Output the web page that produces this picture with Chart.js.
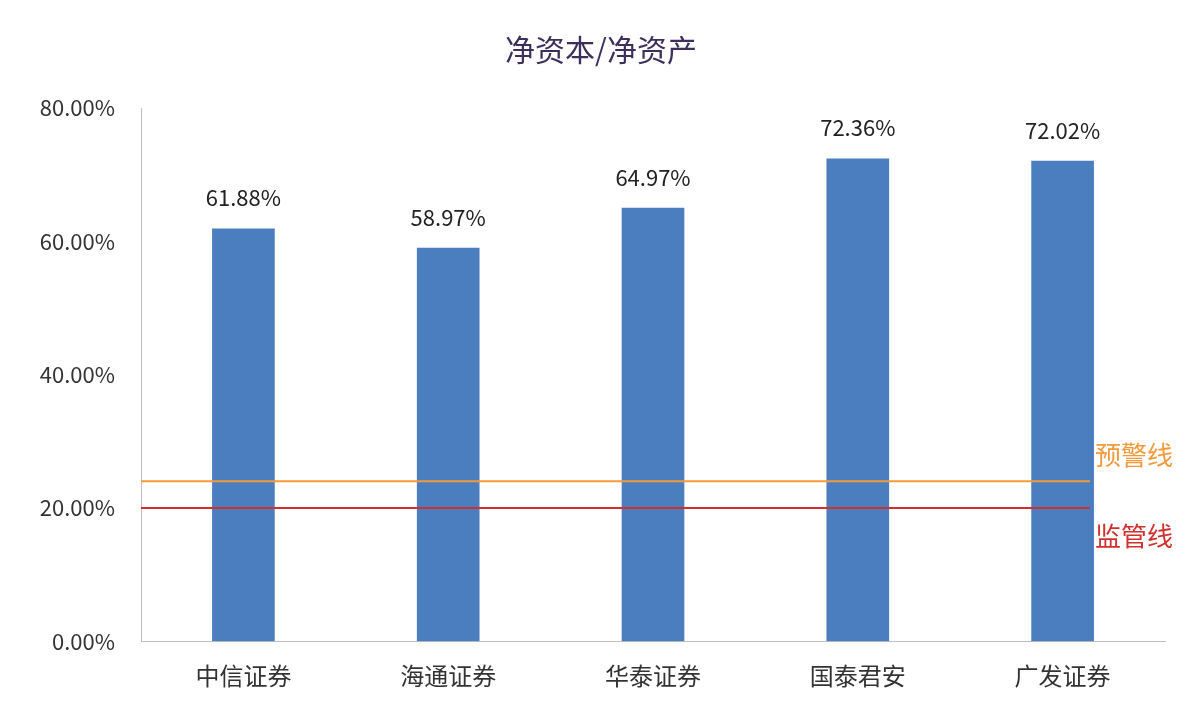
<!DOCTYPE html>
<html>
<head>
<meta charset="utf-8">
<script src="https://cdn.jsdelivr.net/npm/chart.js@4"></script>
<style>
  html, body { margin: 0; padding: 0; background: #fff; }
  #wrap { width: 1202px; height: 722px; }
</style>
</head>
<body>
<div id="wrap"><canvas id="c" width="1202" height="722"></canvas></div>
<script>
const categories = ['中信证券', '海通证券', '华泰证券', '国泰君安', '广发证券'];
const ratios = [61.88, 58.97, 64.97, 72.36, 72.02];
const yTicks = [0, 20, 40, 60, 80];
const refLines = [
  { label: '预警线', value: 24, color: '#f39a3c' },
  { label: '监管线', value: 20, color: '#d0312d' }
];

const font = "'Noto Sans CJK SC', 'Noto Sans', sans-serif";

// title, value labels and the two reference lines
const extras = {
  id: 'extras',
  afterDatasetsDraw(chart) {
    const ctx = chart.ctx;
    const y = chart.scales.y;
    const area = chart.chartArea;
    ctx.save();
    ctx.fillStyle = '#3d2f5b';
    ctx.font = '30px ' + font;
    ctx.textAlign = 'center';
    ctx.textBaseline = 'middle';
    ctx.fillText('净资本/净资产', 601, 50);

    refLines.forEach(r => {
      const py = y.getPixelForValue(r.value);
      ctx.strokeStyle = r.color;
      ctx.lineWidth = 2;
      ctx.beginPath();
      ctx.moveTo(area.left, py);
      ctx.lineTo(1090, py);
      ctx.stroke();
    });
    ctx.font = '26px ' + font;
    ctx.textAlign = 'left';
    ctx.fillStyle = refLines[0].color;
    ctx.fillText(refLines[0].label, 1095, y.getPixelForValue(refLines[0].value) - 26);
    ctx.fillStyle = refLines[1].color;
    ctx.fillText(refLines[1].label, 1095, y.getPixelForValue(refLines[1].value) + 28);

    ctx.fillStyle = '#222';
    ctx.font = '22px ' + font;
    ctx.textAlign = 'center';
    chart.getDatasetMeta(0).data.forEach((bar, i) => {
      ctx.fillText(ratios[i].toFixed(2) + '%', bar.x, bar.y - 31);
    });
    ctx.restore();
  }
};

new Chart(document.getElementById('c'), {
  type: 'bar',
  data: {
    labels: categories,
    datasets: [{
      data: ratios,
      backgroundColor: '#4a7ebf',
      barThickness: 62
    }]
  },
  options: {
    responsive: false,
    animation: false,
    layout: { padding: { top: 108, right: 37, bottom: 20, left: 0 } },
    plugins: { legend: { display: false }, tooltip: { enabled: false } },
    scales: {
      x: {
        grid: { display: false },
        border: { color: '#bfbfbf' },
        ticks: { color: '#333', font: { size: 24, family: font }, padding: 12 }
      },
      y: {
        min: 0, max: 80,
        afterFit(scale) { scale.width = 141; },
        afterBuildTicks(scale) { scale.ticks = yTicks.map(v => ({ value: v })); },
        grid: { display: false },
        border: { color: '#bfbfbf' },
        ticks: {
          color: '#333', padding: 18,
          font: { size: 22, family: font },
          callback: v => v.toFixed(2) + '%'
        }
      }
    }
  },
  plugins: [extras]
});
</script>
</body>
</html>
